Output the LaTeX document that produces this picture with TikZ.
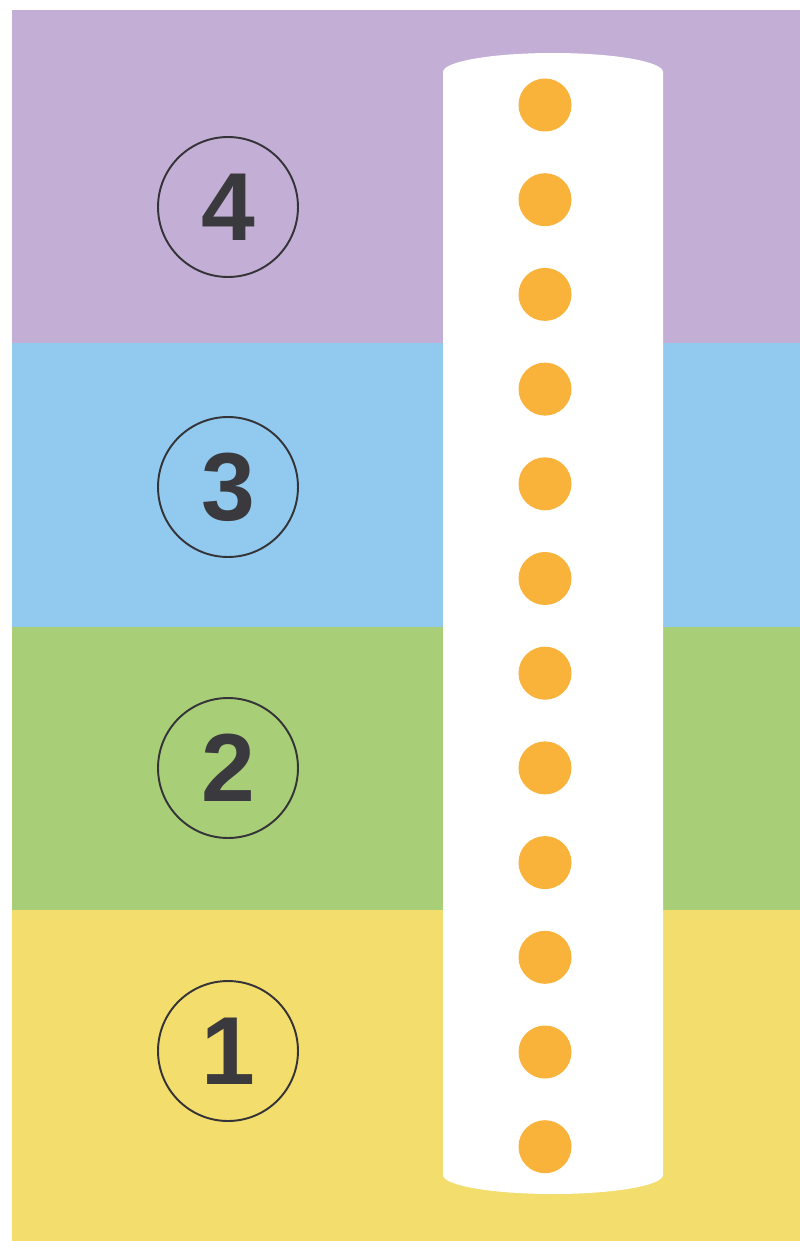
\documentclass[tikz,border=0pt]{standalone}
\usepackage{fontspec}
\setmainfont{Liberation Sans}
\usetikzlibrary{positioning}
\definecolor{bandpurple}{RGB}{195,175,213}
\definecolor{bandblue}{RGB}{145,202,238}
\definecolor{bandgreen}{RGB}{168,206,120}
\definecolor{bandyellow}{RGB}{243,221,108}
\definecolor{dotorange}{RGB}{249,178,58}
\definecolor{numdark}{RGB}{58,58,62}
\tikzset{
  band/.style={draw=none},
  stagenum/.style={circle, draw=numdark!90!black, line width=1.1pt,
    minimum size=2.8cm, inner sep=0pt, text=numdark,
    font=\fontsize{55}{55}\selectfont\bfseries},
  bead/.style={circle, fill=dotorange, draw=none, minimum size=1.06cm, inner sep=0pt}
}
\begin{document}
\begin{tikzpicture}[x=0.02cm, y=-0.02cm]
  \useasboundingbox (0,0) rectangle (800,1241);
  \fill[white] (0,0) rectangle (800,1241);

  % Colour bands
  \fill[band, bandpurple] (12,10) rectangle (800,343);
  \fill[band, bandblue] (12,343) rectangle (800,627);
  \fill[band, bandgreen] (12,627) rectangle (800,910);
  \fill[band, bandyellow] (12,910) rectangle (800,1241);

  % Tube
  \fill[white] (443,72) -- (443,1175) arc[start angle=180, end angle=360, x radius=110, y radius=-19]
    -- (663,72) arc[start angle=0, end angle=180, x radius=110, y radius=-19] -- cycle;

  % Stage numbers
  \foreach \n/\y in {4/207, 3/487, 2/768, 1/1051}
    \node[stagenum] (stage\n) at (228,\y) {\n};

  % Beads
  \foreach \i in {0,...,11}
    \node[bead] (bead\i) at (545,{105+94.7*\i}) {};
\end{tikzpicture}
\end{document}
